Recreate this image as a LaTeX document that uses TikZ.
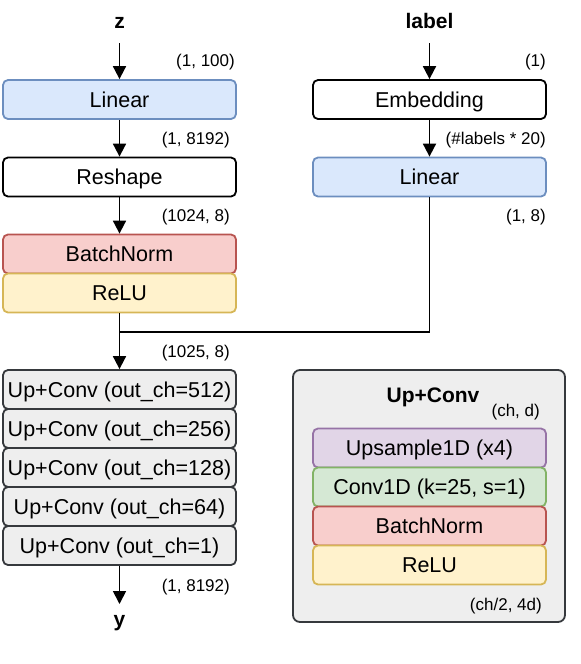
\documentclass[tikz,border=0pt]{standalone}
\usepackage{fontspec}
\setmainfont{Liberation Sans}
\usetikzlibrary{arrows.meta}
\definecolor{bluef}{HTML}{DAE8FC}\definecolor{bluel}{HTML}{6C8EBF}
\definecolor{redf}{HTML}{F8CECC}\definecolor{redl}{HTML}{B85450}
\definecolor{yelf}{HTML}{FFF2CC}\definecolor{yell}{HTML}{D6B656}
\definecolor{purf}{HTML}{E1D5E7}\definecolor{purl}{HTML}{9673A6}
\definecolor{grnf}{HTML}{D5E8D4}\definecolor{grnl}{HTML}{82B366}
\definecolor{grayf}{HTML}{EEEEEE}\definecolor{grayl}{HTML}{36393D}
\begin{document}
\begin{tikzpicture}[x=1pt,y=-1pt,
  box/.style={draw, line width=1.8pt, rounded corners=5pt, minimum width=233pt, minimum height=39pt, inner sep=0pt, text height=15.4pt, text depth=0pt, font=\fontsize{21.5}{25}\selectfont},
  bluebox/.style={box, fill=bluef, draw=bluel},
  whitebox/.style={box, fill=white, draw=black},
  redbox/.style={box, fill=redf, draw=redl},
  yelbox/.style={box, fill=yelf, draw=yell},
  purbox/.style={box, fill=purf, draw=purl},
  grnbox/.style={box, fill=grnf, draw=grnl},
  graybox/.style={box, fill=grayf, draw=grayl},
  dimlabel/.style={anchor=east, inner sep=0pt, font=\fontsize{17}{20}\selectfont},
  iolabel/.style={inner sep=0pt, font=\bfseries\fontsize{21}{25}\selectfont},
  conn/.style={line width=1.8pt, -{Triangle[length=13pt,width=13pt]}},
  plain/.style={line width=1.8pt}
]
\useasboundingbox (0,0) rectangle (581,664);

% outer Up+Conv container
\node[draw=grayl, fill=grayf, line width=1.8pt, rounded corners=7pt, minimum width=272pt, minimum height=252pt, inner sep=0pt] (upbox) at (429,496) {};
\node[iolabel] (uptitle) at (433,397) {Up+Conv};
\node[dimlabel] (chd) at (540,412) {(ch, d)};
\node[purbox] (ups) at (429.5,448) {Upsample1D (x4)};
\node[grnbox] (cnv) at (429.5,487) {Conv1D (k=25, s=1)};
\node[redbox] (bn2) at (429.5,526) {BatchNorm};
\node[yelbox] (relu2) at (429.5,565) {ReLU};
\node[dimlabel] (chd2) at (542,606) {(ch/2, 4d)};

% left column
\node[iolabel] (z) at (119.5,23) {z};
\coordinate (zs) at (119.5,43);
\node[bluebox] (lin1) at (119.5,99.5) {Linear};
\node[whitebox] (resh) at (119.5,177) {Reshape};
\node[redbox] (bn1) at (119.5,254) {BatchNorm};
\node[yelbox] (relu1) at (119.5,293) {ReLU};
\node[graybox] (u1) at (119.5,389.5) {Up+Conv (out\_ch=512)};
\node[graybox] (u2) at (119.5,428.5) {Up+Conv (out\_ch=256)};
\node[graybox] (u3) at (119.5,467.5) {Up+Conv (out\_ch=128)};
\node[graybox] (u4) at (119.5,506.5) {Up+Conv (out\_ch=64)};
\node[graybox] (u5) at (119.5,545.5) {Up+Conv (out\_ch=1)};
\node[iolabel] (y) at (119.5,623) {y};
\coordinate (yn) at (119.5,604);

\node[dimlabel] (d1) at (235,62) {(1, 100)};
\node[dimlabel] (d2) at (230,140) {(1, 8192)};
\node[dimlabel] (d3) at (230,217) {(1024, 8)};
\node[dimlabel] (d4) at (230,353) {(1025, 8)};
\node[dimlabel] (d5) at (230,587) {(1, 8192)};

% right column
\node[iolabel] (lab) at (429.5,21) {label};
\coordinate (ls) at (429.5,43);
\node[whitebox] (emb) at (429.5,99.5) {Embedding};
\node[bluebox] (lin2) at (429.5,177) {Linear};
\node[dimlabel] (r1) at (546,62) {(1)};
\node[dimlabel] (r2) at (546,140) {(\#labels * 20)};
\node[dimlabel] (r3) at (546,217) {(1, 8)};

\coordinate (junc) at (119.5,332);
\coordinate (corner) at (429.5,332);

% connectors
\draw[conn] (zs) -- (lin1);
\draw[conn] (lin1) -- (resh);
\draw[conn] (resh) -- (bn1);
\draw[conn] (relu1) -- (u1);
\draw[plain] (lin2.south) -- (corner) -- (junc);
\draw[conn] (ls) -- (emb);
\draw[conn] (emb) -- (lin2);
\draw[conn] (u5) -- (yn);
\end{tikzpicture}
\end{document}
